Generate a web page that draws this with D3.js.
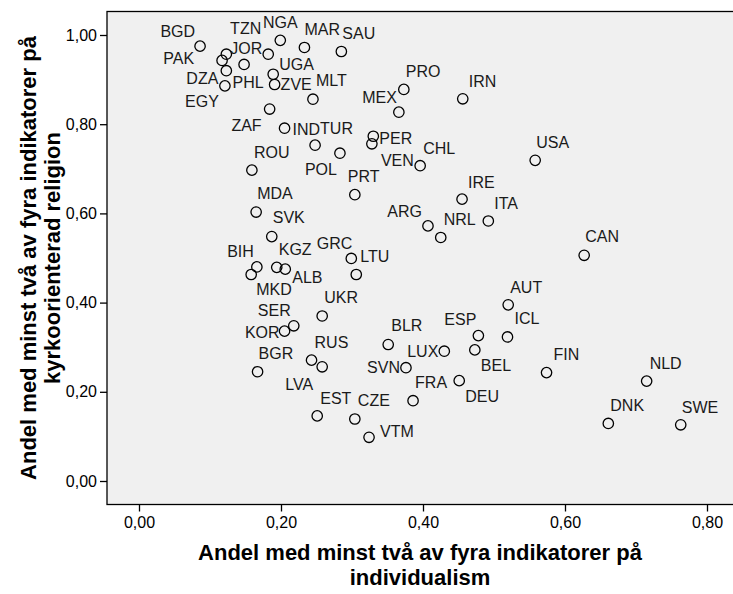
<!DOCTYPE html>
<html>
<head>
<meta charset="utf-8">
<script src="https://cdn.jsdelivr.net/npm/d3@7/dist/d3.min.js"></script>
<style>
  html, body { margin: 0; padding: 0; background: #ffffff; }
  svg { display: block; }
  text { font-family: "Liberation Sans", Arial, sans-serif; }
</style>
</head>
<body>
<svg id="chart" width="733" height="594"></svg>
<script>
// ---- data ----
const countries = ["BGD","JOR","PAK","PHL","DZA","EGY","TZN","NGA","MAR","SAU",
  "UGA","ZVE","MLT","ZAF","IND","TUR","POL","ROU","PRO","IRN",
  "MEX","PER","VEN","CHL","USA","PRT","IRE","MDA","SVK","BIH",
  "MKD","KGZ","ALB","GRC","LTU","UKR","SER","KOR","RUS","LVA",
  "BGR","ITA","ARG","NRL","AUT","ESP","ICL","BLR","LUX","BEL",
  "SVN","FIN","DEU","FRA","EST","CZE","VTM","CAN","NLD","DNK","SWE"];
const individualism = [0.086,0.123,0.117,0.148,0.123,0.121,0.182,0.199,0.233,0.285,
  0.189,0.191,0.245,0.184,0.205,0.248,0.283,0.159,0.373,0.456,
  0.366,0.330,0.328,0.396,0.558,0.304,0.455,0.165,0.187,0.166,
  0.158,0.194,0.206,0.299,0.306,0.258,0.218,0.205,0.243,0.258,
  0.167,0.492,0.407,0.425,0.520,0.478,0.519,0.351,0.430,0.473,
  0.376,0.574,0.451,0.386,0.251,0.304,0.324,0.627,0.715,0.661,0.763];
const churchReligion = [0.975,0.957,0.943,0.934,0.920,0.886,0.957,0.988,0.972,0.963,
  0.912,0.889,0.856,0.834,0.791,0.753,0.735,0.697,0.878,0.857,
  0.827,0.773,0.756,0.707,0.719,0.642,0.632,0.603,0.548,0.480,
  0.463,0.479,0.475,0.499,0.463,0.370,0.348,0.336,0.271,0.256,
  0.245,0.583,0.572,0.546,0.395,0.326,0.323,0.306,0.291,0.294,
  0.254,0.243,0.225,0.180,0.146,0.139,0.098,0.506,0.224,0.129,0.126];
const xTicks = [0, 0.2, 0.4, 0.6, 0.8];
const yTicks = [0, 0.2, 0.4, 0.6, 0.8, 1.0];
const xTitle = ["Andel med minst två av fyra indikatorer på", "individualism"];
const yTitle = ["Andel med minst två av fyra indikatorer på", "kyrkoorienterad religion"];

// ---- label placement (layout only): anchor, dx, dy from point centre ----
const labelPlace = {
  BGD:["end",-5,-15], JOR:["start",4,-6], PAK:["end",-28,-2], PHL:["middle",4,18],
  DZA:["end",-8,8], EGY:["end",-6,15], TZN:["end",-7,-26], NGA:["middle",0,-18],
  MAR:["start",0,-18], SAU:["start",1,-18], UGA:["start",6,-10], ZVE:["start",6,0],
  MLT:["start",3,-19], ZAF:["end",-8,16], IND:["start",8,1], TUR:["start",5,-17],
  POL:["end",-3,16], ROU:["start",2,-18], PRO:["start",2,-18], IRN:["start",6,-18],
  MEX:["end",-2,-15], PER:["start",6,2], VEN:["start",9,16], CHL:["start",3,-17],
  USA:["start",1,-18], PRT:["start",-7,-18], IRE:["start",6,-17], MDA:["start",1,-19],
  SVK:["start",1,-19], BIH:["end",-3,-16], MKD:["start",5,15], KGZ:["start",2,-18],
  ALB:["start",7,8], GRC:["end",1,-15], LTU:["start",4,-18], UKR:["start",2,-19],
  SER:["end",-3,-16], KOR:["end",-5,1], RUS:["start",3,-18], LVA:["end",-9,17],
  BGR:["start",1,-18], ITA:["start",6,-18], ARG:["end",-6,-15], NRL:["start",3,-18],
  AUT:["start",2,-18], ESP:["end",-2,-16], ICL:["start",7,-19], BLR:["start",3,-19],
  LUX:["end",-6,0], BEL:["start",6,15], SVN:["end",-6,0], FIN:["start",7,-18],
  DEU:["start",6,16], FRA:["start",2,-18], EST:["start",3,-18], CZE:["start",3,-19],
  VTM:["start",11,-6], CAN:["start",1,-19], NLD:["start",3,-18], DNK:["start",2,-18],
  SWE:["start",1,-18]
};

// ---- layout ----
const svg = d3.select("#chart");
const frame = {left: 107, top: 11.5, right: 735, bottom: 504.5};
const x = d3.scaleLinear().domain([0, 0.8]).range([139, 707]);
const y = d3.scaleLinear().domain([0, 1]).range([481, 35]);
const fmt = v => d3.format(".2f")(v).replace(".", ",");

svg.append("rect")
  .attr("x", frame.left).attr("y", frame.top)
  .attr("width", frame.right - frame.left).attr("height", frame.bottom - frame.top)
  .attr("fill", "#f0f0f0").attr("stroke", "#000").attr("stroke-width", 1.3);

// axes
const yAxis = d3.axisLeft(y).tickValues(yTicks).tickFormat(fmt).tickSize(7).tickPadding(3);
const gy = svg.append("g").attr("transform", `translate(${frame.left},0)`).call(yAxis);
gy.select(".domain").remove();
gy.selectAll("line").attr("stroke", "#000").attr("stroke-width", 1.3);
gy.selectAll("text").attr("font-size", 16).attr("fill", "#000");

const xAxis = d3.axisBottom(x).tickValues(xTicks).tickFormat(fmt).tickSize(7).tickPadding(5);
const gx = svg.append("g").attr("transform", `translate(0,${frame.bottom})`).call(xAxis);
gx.select(".domain").remove();
gx.selectAll("line").attr("stroke", "#000").attr("stroke-width", 1.3);
gx.selectAll("text").attr("font-size", 16).attr("fill", "#000");

// points
const pts = countries.map((c, i) => ({name: c, x: individualism[i], y: churchReligion[i]}));
svg.append("g").selectAll("circle").data(pts).join("circle")
  .attr("cx", d => x(d.x)).attr("cy", d => y(d.y)).attr("r", 5.2)
  .attr("fill", "none").attr("stroke", "#000").attr("stroke-width", 1.3);

svg.append("g").selectAll("text").data(pts).join("text")
  .attr("x", d => x(d.x) + labelPlace[d.name][1])
  .attr("y", d => y(d.y) + labelPlace[d.name][2])
  .attr("dy", "0.36em")
  .attr("text-anchor", d => labelPlace[d.name][0])
  .attr("font-size", 16).attr("fill", "#1a1a1a")
  .text(d => d.name);

// axis titles
const cx = (frame.left + 733) / 2;
svg.append("g").selectAll("text").data(xTitle).join("text")
  .attr("x", cx).attr("y", (d, i) => 560 + i * 25)
  .attr("text-anchor", "middle").attr("font-weight", "bold").attr("font-size", 22)
  .text(d => d);

const cy = (frame.top + frame.bottom) / 2;
svg.append("g").attr("transform", `translate(0,${cy}) rotate(-90)`)
  .selectAll("text").data(yTitle).join("text")
  .attr("x", 0).attr("y", (d, i) => 36 + i * 24)
  .attr("text-anchor", "middle").attr("font-weight", "bold").attr("font-size", 22)
  .text(d => d);
</script>
</body>
</html>
